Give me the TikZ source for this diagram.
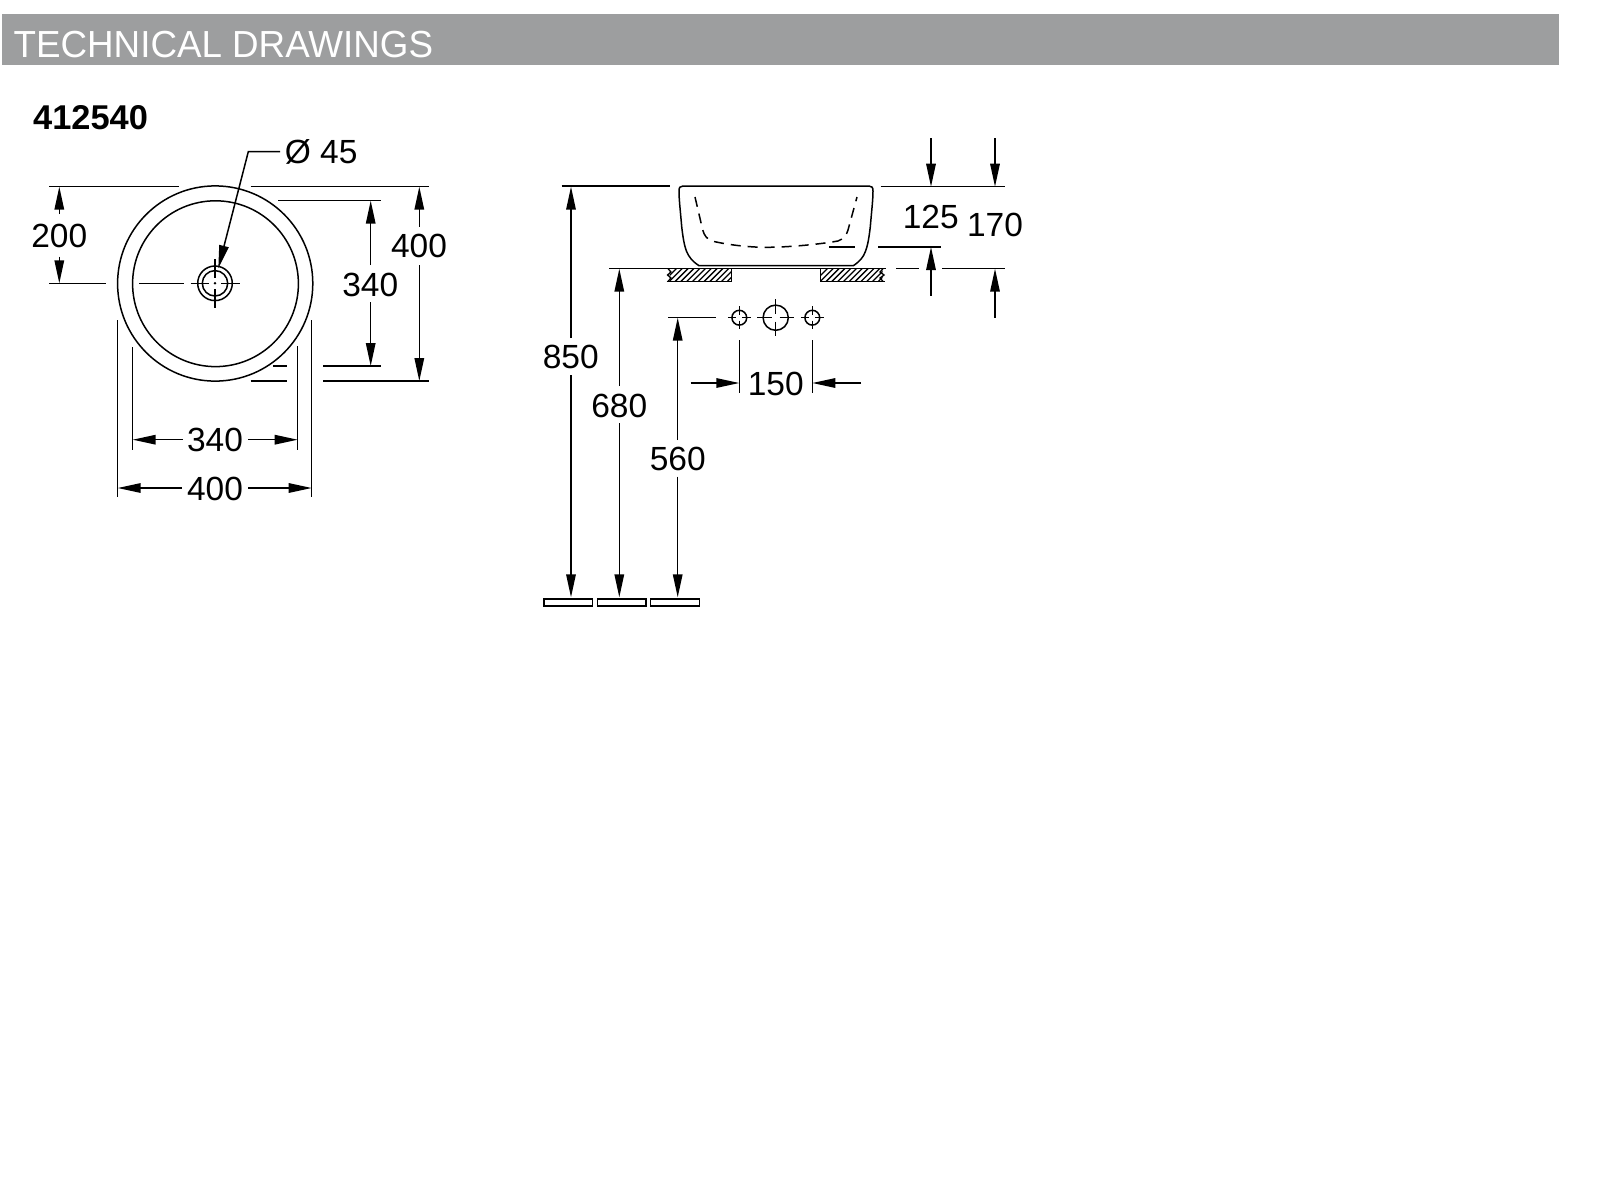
\documentclass[tikz,border=0pt]{standalone}
\usepackage{fontspec}
\setmainfont{Liberation Sans}
\usetikzlibrary{arrows.meta}
\tikzset{
  ln/.style={line width=1.5pt,black},
  thin ln/.style={line width=1.3pt,black},
  dim/.style={ln,-{Triangle[length=23pt,width=9.5pt]}},
  val/.style={inner sep=0pt,font=\fontsize{33.5}{36}\selectfont,text=black},
  hiddenline/.style={ln,dash pattern=on 10pt off 7pt},
}
\begin{document}
\begin{tikzpicture}[x=1pt,y=-1pt]
\useasboundingbox (0,0) rectangle (1600,1200);
\fill[white] (0,0) rectangle (1600,1200);
% header
\fill[fill={rgb,255:red,157;green,158;blue,159}] (2,14) rectangle (1559,65);
\node[inner sep=0pt,anchor=west,xscale=.975,text=white,font=\fontsize{37.7}{40}\selectfont] (title) at (13.5,44.3) {TECHNICAL DRAWINGS};
\node[val,anchor=west,font=\fontsize{34.4}{36}\selectfont\bfseries] (code) at (33,118) {412540};

% ---- plan view
\draw[ln] (215.2,283.5) circle (97.6);
\draw[ln] (215.5,283.7) circle (82.9);
\draw[ln] (215,283.3) circle (17.3);
\draw[ln] (215,283.3) circle (12.7);
\fill (215,283.3) circle (1.4);
\draw[thin ln] (190.7,283.3) -- (209,283.3) (221,283.3) -- (240,283.3)
  (215,259) -- (215,277.5) (215,289) -- (215,308);
\draw[ln] (139,283.3) -- (184.3,283.3);
% extension lines
\draw[ln] (49.3,186.7) -- (179.3,186.7) (250.7,186.7) -- (429.3,186.7);
\draw[ln] (49.3,283.3) -- (106,283.3);
\draw[ln] (278.3,200.7) -- (380.7,200.7);
\draw[ln] (273.3,366) -- (286.7,366) (323.3,366) -- (380.7,366);
\draw[ln] (250.7,381) -- (286.7,381) (323.3,381) -- (429.3,381);
\draw[ln] (117.7,320) -- (117.7,497.3) (311.7,320) -- (311.7,497.3);
\draw[ln] (132.7,347.3) -- (132.7,450) (297.7,346.3) -- (297.7,450);
% leader
\node[val,anchor=west] (dia) at (284.7,152.3) {Ø 45};
\coordinate (lead) at (248.3,151.7);
\draw[dim] (280,151.7) -- (lead) -- (218.3,268.3);
% 200
\node[val] (a200) at (59.3,235.7) {200};
\draw[dim] (59.3,214) -- (59.3,186.7);
\draw[dim] (59.3,256.7) -- (59.3,283.3);
% 340 v
\node[val] (b340) at (370.2,284.7) {340};
\draw[dim] (370.7,265) -- (370.7,200.7);
\draw[dim] (370.7,302.3) -- (370.7,366);
% 400 v
\node[val] (c400) at (419,246.3) {400};
\draw[dim] (419.3,226.7) -- (419.3,186.7);
\draw[dim] (419.3,265) -- (419.3,381);
% 340 h
\node[val] (d340) at (215,440) {340};
\draw[dim] (182.7,439.7) -- (132.7,439.7);
\draw[dim] (248.3,439.7) -- (297.7,439.7);
% 400 h
\node[val] (e400) at (215,488.7) {400};
\draw[dim] (181.7,488) -- (117.7,488);
\draw[dim] (248,488) -- (311.7,488);

% ---- side view
\draw[ln] (699,265.7)
  .. controls (692,261) and (689,257) .. (686.7,251.7)
  .. controls (684,245) and (682.8,236) .. (681.7,226.7)
  .. controls (680.5,212) and (679,200) .. (679,191)
  .. controls (679,187.5) and (680,186) .. (683,186)
  -- (869,186)
  .. controls (872,186) and (873,187.5) .. (873,191)
  .. controls (873,200) and (871.5,212) .. (870.3,226.7)
  .. controls (869.2,236) and (868,245) .. (865.3,251.7)
  .. controls (863.3,257) and (860.3,261) .. (853.3,265.7)
  -- cycle;
\draw[hiddenline] (695,197) -- (702.7,230)
  .. controls (704.5,236) and (707,239) .. (712,241)
  .. controls (728,245) and (750,247.3) .. (766,247.3)
  .. controls (785,247.3) and (815,245) .. (838,241)
  .. controls (843,239) and (846.5,236) .. (848,230)
  -- (857,197);
% counter
\draw[ln] (609.3,268.7) -- (886,268.7);
\draw[ln] (896,268.7) -- (919,268.7) (942.3,268.7) -- (1005,268.7);
% hatched counter sections
\begin{scope}
\clip (669.5,268.7) rectangle (731.7,281.3);
\foreach \i in {0,...,13} \draw[thin ln] (662+\i*5.8,283) -- (678+\i*5.8,267);
\end{scope}
\begin{scope}
\clip (820.7,268.7) rectangle (882.5,281.3);
\foreach \i in {0,...,13} \draw[thin ln] (813+\i*5.8,283) -- (829+\i*5.8,267);
\end{scope}
\draw[ln] (666.7,281.3) -- (731.7,281.3) -- (731.7,268.7);
\draw[ln] (820.7,268.7) -- (820.7,281.3) -- (885,281.3);
\draw[thin ln] (668,268.7) -- (671,272) -- (667.5,275) -- (671,278) -- (668,281.3);
\draw[thin ln] (883,268.7) -- (880,272) -- (884,275) -- (880,278) -- (883,281.3);
% extension lines
\draw[ln] (561.7,186) -- (670,186);
\draw[ln] (880.7,186.7) -- (1005,186.7);
\draw[ln] (829.3,247) -- (855,247) (878.3,247) -- (941,247);
\draw[ln] (668.3,317.7) -- (716,317.7);
\draw[ln] (739.3,340) -- (739.3,393) (812.3,340) -- (812.3,393);
% holes
\foreach \cx/\nm in {739.3/hl,812.3/hr}{
  \draw[ln] (\cx,317.7) circle (7.4);
  \draw[thin ln] (\cx-11.5,317.7) -- (\cx-3,317.7) (\cx+3,317.7) -- (\cx+11.5,317.7)
    (\cx,306) -- (\cx,314.7) (\cx,320.7) -- (\cx,329.4);
}
\draw[ln] (775.7,317.7) circle (12.6);
\draw[thin ln] (757.2,317.7) -- (771.7,317.7) (779.7,317.7) -- (794.2,317.7)
  (775.7,299.2) -- (775.7,313.7) (775.7,321.7) -- (775.7,336.2);
% 125
\node[val] (f125) at (930.7,216.7) {125};
\draw[dim] (931,138.3) -- (931,186.7);
\draw[dim] (931,295.7) -- (931,247);
% 170
\node[val] (g170) at (995,225) {170};
\draw[dim] (995,138.3) -- (995,186.7);
\draw[dim] (995,317.7) -- (995,268.7);
% 150
\node[val] (h150) at (775.7,383.7) {150};
\draw[dim] (690.7,383) -- (739.3,383);
\draw[dim] (861,383) -- (812.3,383);
% 850
\node[val] (i850) at (570.8,356.7) {850};
\draw[dim] (571,338) -- (571,186.7);
\draw[dim] (571,375) -- (571,597.3);
% 680
\node[val] (j680) at (619.3,406) {680};
\draw[dim] (619.3,386) -- (619.3,268.7);
\draw[dim] (619.3,423.3) -- (619.3,597.3);
% 560
\node[val] (k560) at (677.7,459) {560};
\draw[dim] (677.7,440) -- (677.7,317.7);
\draw[dim] (677.7,476.7) -- (677.7,597.3);
% floor
\draw[thin ln] (544,599) rectangle (592.7,606);
\draw[thin ln] (597.3,599) rectangle (646,606);
\draw[thin ln] (650.7,599) rectangle (699.3,606);
\end{tikzpicture}
\end{document}
